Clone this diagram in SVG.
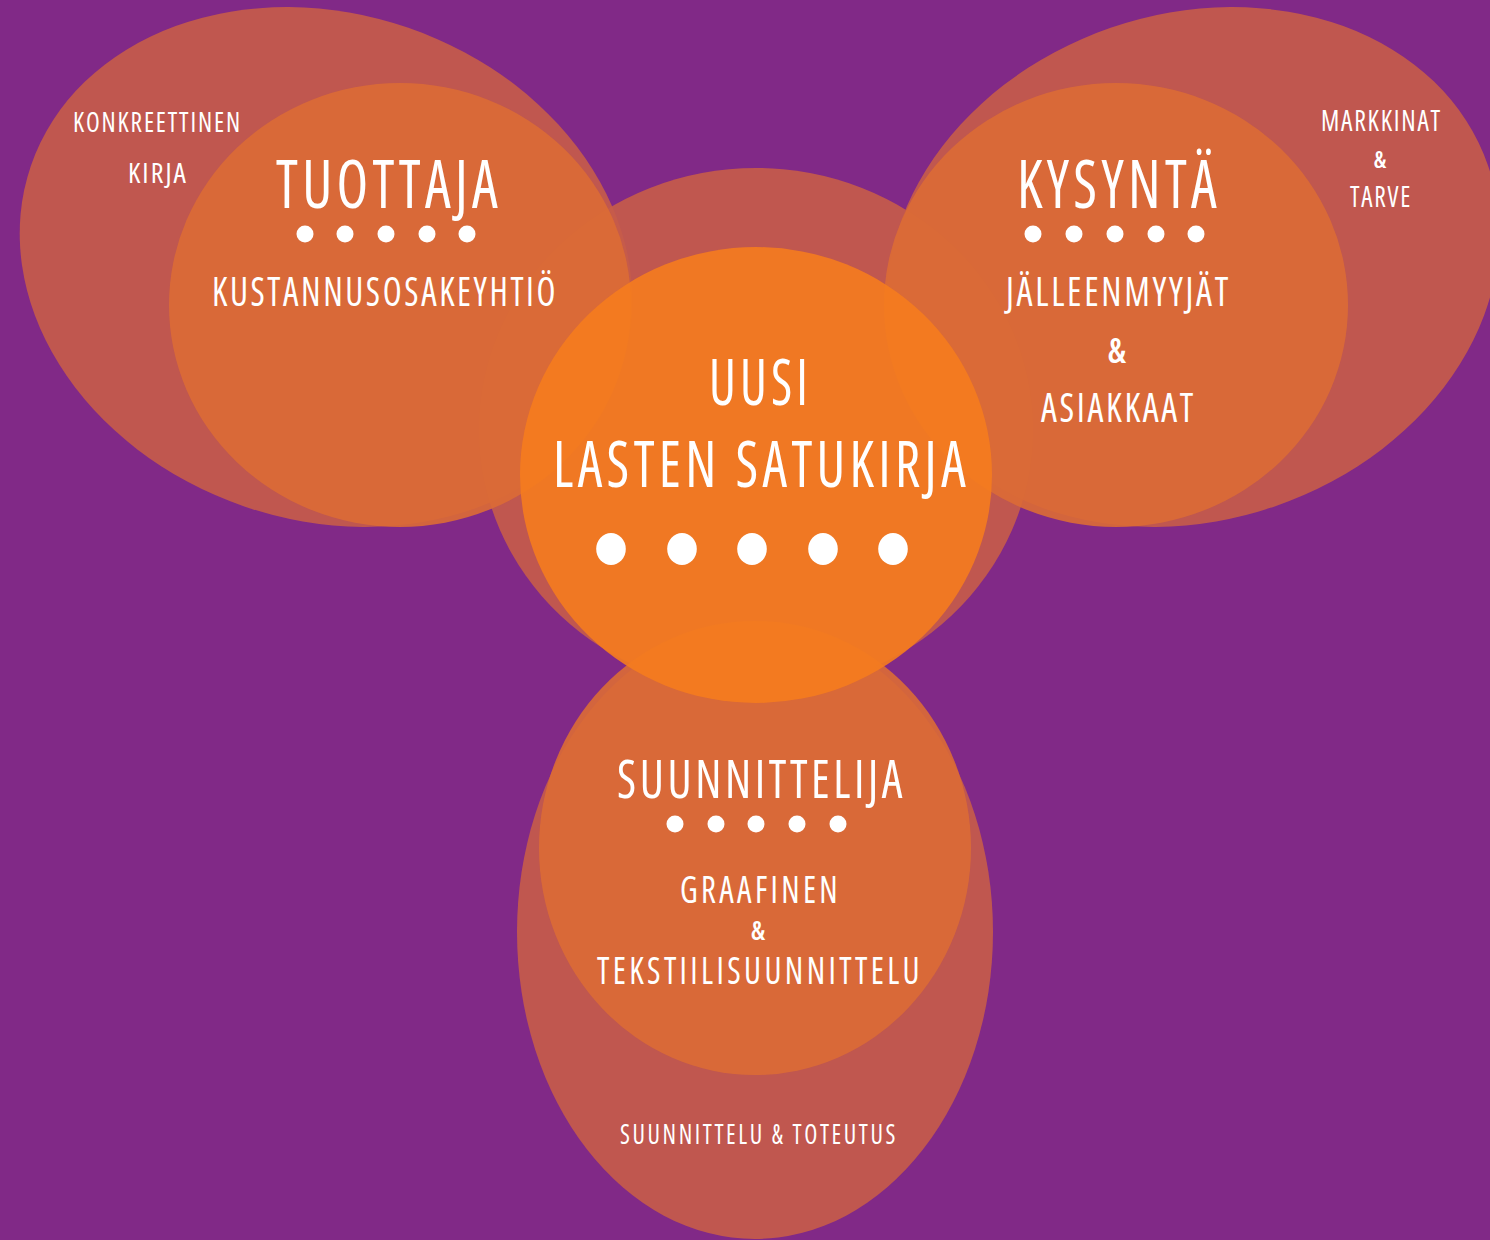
<svg xmlns="http://www.w3.org/2000/svg" width="1490" height="1240" viewBox="0 0 1490 1240">
  <style>
    .outer { fill: #C75C49; fill-opacity: 0.9; }
    .inner { fill: #DC6C35; fill-opacity: 0.9; }
    .core  { fill: #F57C1E; fill-opacity: 0.9; }
    text { fill: #FFFFFF; font-family: "Open Sans", "DejaVu Sans", sans-serif; font-stretch: 75%; font-weight: 500; }
    .amp { text-anchor: middle; font-weight: 600; }
    .dot { fill: #FFFFFF; }
  </style>

  <!-- background -->
  <rect x="0" y="0" width="1490" height="1240" fill="#812987"/>

  <!-- overlapping discs -->
  <g id="discs">
    <ellipse id="tuottaja-outer" class="outer" cx="326" cy="267" rx="312" ry="253" transform="rotate(19 326 267)"/>
    <ellipse id="kysynta-outer" class="outer" cx="1193" cy="267" rx="312" ry="253" transform="rotate(-19 1193 267)"/>
    <ellipse id="suunnittelija-outer" class="outer" cx="755" cy="932" rx="238" ry="307"/>
    <ellipse id="satukirja-outer" class="outer" cx="756" cy="430" rx="277" ry="262"/>

    <ellipse id="tuottaja-inner" class="inner" cx="400" cy="305" rx="231" ry="222"/>
    <ellipse id="kysynta-inner" class="inner" cx="1116" cy="305" rx="232" ry="222"/>
    <ellipse id="suunnittelija-inner" class="inner" cx="755" cy="848" rx="216" ry="227"/>
    <ellipse id="satukirja-inner" class="core" cx="756" cy="475" rx="236" ry="228"/>
  </g>

  <!-- producer -->
  <g id="node-tuottaja">
    <text x="73" y="132" font-size="27" letter-spacing="2" textLength="169" lengthAdjust="spacingAndGlyphs">KONKREETTINEN</text>
    <text x="128" y="183" font-size="27" letter-spacing="2" textLength="60" lengthAdjust="spacingAndGlyphs">KIRJA</text>
    <text x="276" y="208" font-size="67" letter-spacing="5" textLength="226" lengthAdjust="spacingAndGlyphs">TUOTTAJA</text>
    <circle class="dot" cx="305" cy="234" r="8.5"/>
    <circle class="dot" cx="345" cy="234" r="8.5"/>
    <circle class="dot" cx="386" cy="234" r="8.5"/>
    <circle class="dot" cx="427" cy="234" r="8.5"/>
    <circle class="dot" cx="467" cy="234" r="8.5"/>
    <text x="212" y="306" font-size="40" letter-spacing="3" textLength="346" lengthAdjust="spacingAndGlyphs">KUSTANNUSOSAKEYHTIÖ</text>
  </g>

  <!-- demand -->
  <g id="node-kysynta">
    <text x="1017" y="208" font-size="67" letter-spacing="5" textLength="204" lengthAdjust="spacingAndGlyphs">KYSYNTÄ</text>
    <circle class="dot" cx="1033" cy="234" r="8.5"/>
    <circle class="dot" cx="1074" cy="234" r="8.5"/>
    <circle class="dot" cx="1115" cy="234" r="8.5"/>
    <circle class="dot" cx="1156" cy="234" r="8.5"/>
    <circle class="dot" cx="1196" cy="234" r="8.5"/>
    <text x="1006" y="306" font-size="40" letter-spacing="3" textLength="225" lengthAdjust="spacingAndGlyphs">JÄLLEENMYYJÄT</text>
    <text class="amp" x="1117" y="363" font-size="35">&amp;</text>
    <text x="1041" y="422" font-size="40" letter-spacing="3" textLength="155" lengthAdjust="spacingAndGlyphs">ASIAKKAAT</text>
    <text x="1321" y="131" font-size="29" letter-spacing="2" textLength="121" lengthAdjust="spacingAndGlyphs">MARKKINAT</text>
    <text class="amp" x="1380" y="168" font-size="24">&amp;</text>
    <text x="1350" y="207" font-size="29" letter-spacing="2" textLength="62" lengthAdjust="spacingAndGlyphs">TARVE</text>
  </g>

  <!-- new children's fairy-tale book -->
  <g id="node-satukirja">
    <text x="709" y="405" font-size="63" letter-spacing="5" textLength="103" lengthAdjust="spacingAndGlyphs">UUSI</text>
    <text x="553" y="487" font-size="63" letter-spacing="5" textLength="417" lengthAdjust="spacingAndGlyphs">LASTEN SATUKIRJA</text>
    <ellipse class="dot" cx="611" cy="549" rx="14.8" ry="16"/>
    <ellipse class="dot" cx="682" cy="549" rx="14.8" ry="16"/>
    <ellipse class="dot" cx="752" cy="549" rx="14.8" ry="16"/>
    <ellipse class="dot" cx="823" cy="549" rx="14.8" ry="16"/>
    <ellipse class="dot" cx="893" cy="549" rx="14.8" ry="16"/>
  </g>

  <!-- designer -->
  <g id="node-suunnittelija">
    <text x="617" y="798" font-size="52" letter-spacing="4" textLength="289" lengthAdjust="spacingAndGlyphs">SUUNNITTELIJA</text>
    <circle class="dot" cx="675" cy="824" r="8.5"/>
    <circle class="dot" cx="716" cy="824" r="8.5"/>
    <circle class="dot" cx="756" cy="824" r="8.5"/>
    <circle class="dot" cx="797" cy="824" r="8.5"/>
    <circle class="dot" cx="838" cy="824" r="8.5"/>
    <text x="680" y="903" font-size="39" letter-spacing="4" textLength="161" lengthAdjust="spacingAndGlyphs">GRAAFINEN</text>
    <text class="amp" x="758" y="940" font-size="27">&amp;</text>
    <text x="597" y="984" font-size="39" letter-spacing="4" textLength="326" lengthAdjust="spacingAndGlyphs">TEKSTIILISUUNNITTELU</text>
    <text x="620" y="1144" font-size="28" letter-spacing="3" textLength="278" lengthAdjust="spacingAndGlyphs">SUUNNITTELU &amp; TOTEUTUS</text>
  </g>
</svg>
